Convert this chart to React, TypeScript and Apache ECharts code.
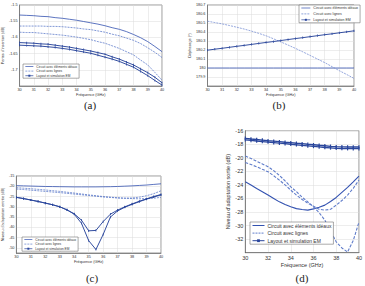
import React, { useEffect, useRef } from "react";
import * as echarts from "echarts";

// Frequency sweep (GHz), 0.5 GHz steps
const freq = [30, 30.5, 31, 31.5, 32, 32.5, 33, 33.5, 34, 34.5, 35, 35.5, 36, 36.5, 37, 37.5, 38, 38.5, 39, 39.5, 40];

// (a) Pertes d'insertion (dB)
const lossIdeal = [-1.531, -1.532, -1.533, -1.535, -1.536, -1.539, -1.541, -1.544, -1.547, -1.551, -1.555, -1.559, -1.564, -1.570, -1.575, -1.582, -1.591, -1.601, -1.613, -1.628, -1.644];
const lossLignes1 = [-1.565, -1.565, -1.565, -1.565, -1.566, -1.566, -1.567, -1.569, -1.571, -1.574, -1.576, -1.580, -1.584, -1.590, -1.595, -1.602, -1.609, -1.619, -1.632, -1.646, -1.662];
const lossLignes2 = [-1.584, -1.585, -1.585, -1.587, -1.589, -1.591, -1.593, -1.596, -1.599, -1.603, -1.607, -1.613, -1.618, -1.626, -1.634, -1.644, -1.654, -1.670, -1.685, -1.708, -1.732];
const lossLayout1 = [-1.616, -1.617, -1.618, -1.620, -1.621, -1.624, -1.627, -1.630, -1.634, -1.638, -1.642, -1.647, -1.652, -1.660, -1.667, -1.676, -1.685, -1.697, -1.709, -1.723, -1.740];
const lossLayout2 = [-1.624, -1.625, -1.626, -1.627, -1.629, -1.631, -1.634, -1.637, -1.641, -1.645, -1.649, -1.655, -1.661, -1.667, -1.674, -1.683, -1.692, -1.705, -1.718, -1.733, -1.747];

// (b) Déphasage (°)
const phaseIdeal = [180, 180, 180, 180, 180, 180, 180, 180, 180, 180, 180, 180, 180, 180, 180, 180, 180, 180, 180, 180, 180];
const phaseLignes = [180.52, 180.505, 180.49, 180.472, 180.453, 180.433, 180.41, 180.385, 180.358, 180.325, 180.29, 180.255, 180.218, 180.18, 180.14, 180.1, 180.06, 180.015, 179.97, 179.928, 179.885];
const phaseLayout = [180.198, 180.209, 180.219, 180.23, 180.241, 180.251, 180.262, 180.273, 180.284, 180.294, 180.305, 180.316, 180.327, 180.337, 180.348, 180.359, 180.37, 180.38, 180.391, 180.402, 180.413];

// (c) Niveau d'adaptation entrée (dB)
const inIdeal = [-19.7, -19.8, -19.9, -20.0, -20.1, -20.15, -20.2, -20.25, -20.3, -20.3, -20.3, -20.3, -20.25, -20.2, -20.1, -19.95, -19.8, -19.6, -19.4, -19.1, -18.8];
const inLignes1 = [-20.7, -20.95, -21.2, -21.5, -21.8, -22.15, -22.5, -22.9, -23.3, -23.75, -24.2, -24.6, -25.0, -25.3, -25.6, -25.8, -25.7, -25.3, -24.6, -23.6, -22.2];
const inLignes2 = [-21.35, -21.6, -21.9, -22.2, -22.5, -22.8, -23.1, -23.45, -23.8, -24.15, -24.5, -24.85, -25.2, -25.45, -25.7, -25.85, -26.0, -26.1, -26.0, -25.8, -25.4];
const inLayout1 = [-25.4, -26.0, -26.7, -27.4, -28.2, -29.0, -30.0, -31.5, -33.4, -36.5, -41.7, -41.5, -37.2, -33.6, -31.6, -30.0, -28.6, -27.3, -26.1, -25.0, -24.0];
const inLayout2 = [-25.4, -26.0, -26.7, -27.4, -28.2, -29.0, -30.0, -31.5, -33.6, -38.0, -46.5, -50.8, -43.5, -35.0, -32.0, -30.2, -28.8, -27.5, -26.3, -25.2, -24.2];

// (d) Niveau d'adaptation sortie (dB)
const outIdeal = [-23.54, -24.0, -24.52, -25.0, -25.5, -26.0, -26.5, -26.9, -27.23, -27.5, -27.63, -27.72, -27.53, -27.3, -26.98, -26.45, -25.85, -25.1, -24.37, -23.55, -22.7];
const outLignes1 = [-19.74, -20.1, -20.5, -20.9, -21.32, -21.9, -22.6, -23.4, -24.28, -25.0, -25.8, -26.5, -27.23, -28.1, -29.2, -30.8, -32.4, -33.3, -33.9, -32.2, -29.5];
const outLignes2 = [-20.68, -21.0, -21.32, -21.7, -22.06, -22.65, -23.29, -24.0, -24.77, -25.5, -26.15, -26.7, -27.13, -27.6, -27.72, -27.6, -26.98, -26.3, -25.5, -24.5, -23.29];
const outLayout1 = [-17.13, -17.22, -17.3, -17.39, -17.48, -17.55, -17.62, -17.7, -17.77, -17.85, -17.92, -18.0, -18.07, -18.15, -18.22, -18.3, -18.36, -18.38, -18.4, -18.4, -18.4];
const outLayout2 = [-17.35, -17.43, -17.52, -17.6, -17.68, -17.76, -17.84, -17.92, -18.0, -18.08, -18.16, -18.24, -18.32, -18.4, -18.48, -18.54, -18.6, -18.63, -18.65, -18.65, -18.65];

const NAME_IDEAL = "Circuit avec éléments idéaux";
const NAME_LIGNES = "Circuit avec lignes";
const NAME_LAYOUT = "Layout et simulation EM";

const C_IDEAL = "#3352b0";
const C_LIGNES = "#5f7cca";
const C_LAYOUT = "#2a469c";
const GRID_LINE = "#dadada";
const TEXT = "#333";
const FONT = "Liberation Sans, Arial, sans-serif";

const pairs = (ys: number[]) => ys.map((y, i) => [freq[i], y]);

type Kind = "ideal" | "lignes" | "layout";

function line(kind: Kind, grid: number, ys: number[], big: boolean, color?: string) {
  const name = kind === "ideal" ? NAME_IDEAL : kind === "lignes" ? NAME_LIGNES : NAME_LAYOUT;
  const c = color || (kind === "ideal" ? C_IDEAL : kind === "lignes" ? C_LIGNES : C_LAYOUT);
  const w = big ? 1.1 : 0.8;
  return {
    type: "line",
    name,
    xAxisIndex: grid,
    yAxisIndex: grid,
    data: pairs(ys),
    smooth: false,
    showSymbol: kind === "layout",
    symbol: kind === "layout" ? "rect" : "none",
    symbolSize: big ? [1.2, 3.5] : [0.8, 2.2],
    itemStyle: { color: c },
    lineStyle: {
      color: c,
      width: kind === "layout" ? w * 1.2 : w,
      type: kind === "lignes" ? (big ? [3, 1.5] : [2, 1]) : "solid",
    },
    emphasis: { disabled: true },
    silent: true,
  };
}

function xAxis(grid: number, interval: number, fs: number, nameGap: number) {
  return {
    type: "value",
    gridIndex: grid,
    min: 30,
    max: 40,
    interval,
    name: "Fréquence (GHz)",
    nameLocation: "middle",
    nameGap,
    nameTextStyle: { fontSize: fs, color: TEXT, fontFamily: FONT },
    axisLine: { show: true, onZero: false, lineStyle: { color: "#555", width: 0.6 } },
    axisTick: { show: false },
    axisLabel: { fontSize: fs, color: TEXT, margin: 2, fontFamily: FONT },
    splitLine: { show: true, lineStyle: { color: GRID_LINE, width: 0.5 } },
  };
}

function yAxis(grid: number, name: string, min: number, max: number, interval: number, fs: number, nameGap: number, fmt: (v: number) => string, extra: any = {}) {
  return {
    type: "value",
    gridIndex: grid,
    min,
    max,
    interval,
    name,
    nameLocation: "middle",
    nameGap,
    nameRotate: 90,
    nameTextStyle: { fontSize: fs, color: TEXT, fontFamily: FONT },
    axisLine: { show: true, lineStyle: { color: "#555", width: 0.6 } },
    axisTick: { show: false },
    axisLabel: { fontSize: fs, color: TEXT, margin: 2, fontFamily: FONT, showMinLabel: false, formatter: fmt, ...(extra.axisLabel || {}) },
    splitLine: { show: true, lineStyle: { color: GRID_LINE, width: 0.5 } },
    ...(extra.rest || {}),
  };
}

// Legend entries: plain lines have no marker, the EM layout keeps its marker
const legendData = [
  { name: NAME_IDEAL, itemStyle: { opacity: 0 } },
  { name: NAME_LIGNES, itemStyle: { opacity: 0 } },
  { name: NAME_LAYOUT },
];

function legend(left: number, top: number, fs: number, itemW: number, itemH: number, gap: number, lw: number) {
  return {
    data: legendData,
    orient: "vertical",
    left,
    top,
    backgroundColor: "#fff",
    borderColor: "#555",
    borderWidth: 0.5,
    padding: [1, 2, 1, 2],
    itemGap: gap,
    itemWidth: itemW,
    itemHeight: itemH,
    selectedMode: false,
    lineStyle: { width: lw },
    textStyle: { fontSize: fs, color: TEXT, fontFamily: FONT, padding: [0, 0, 0, -2] },
  };
}

const gridBox = { show: true, borderColor: "#555", borderWidth: 0.6, backgroundColor: "#fff" };

export default function App() {
  const ref = useRef<HTMLDivElement>(null);

  useEffect(() => {
    if (!ref.current) return;
    const chart = echarts.init(ref.current, undefined, { renderer: "svg" });
    const f2 = (v: number) => String(+v.toFixed(2));
    const f1 = (v: number) => String(+v.toFixed(1));
    const f0 = (v: number) => String(Math.round(v));
    const cTicks = [-50, -45, -40, -35, -30, -25, -20, -15];

    chart.setOption({
      animation: false,
      backgroundColor: "#fff",
      grid: [
        { left: 18, top: 5, width: 144, height: 81, ...gridBox },
        { left: 207.5, top: 5, width: 146.5, height: 81, ...gridBox },
        { left: 13.5, top: 176, width: 147.5, height: 77, ...gridBox },
        { left: 245.3, top: 130.7, width: 119.2, height: 122, ...gridBox },
      ],
      xAxis: [xAxis(0, 1, 3.8, 6), xAxis(1, 1, 3.8, 6), xAxis(2, 1, 3.8, 6), xAxis(3, 2, 5.5, 9)],
      yAxis: [
        yAxis(0, "Pertes d'insertion (dB)", -1.75, -1.5, 0.05, 3.8, 11, f2),
        yAxis(1, "Déphasage (°)", 179.8, 180.7, 0.1, 3.8, 13, f1),
        yAxis(2, "Niveau d'adaptation entrée (dB)", -52.5, -15, 2.5, 3.8, 9, f0, {
          axisLabel: { customValues: cTicks, showMinLabel: true },
          rest: { axisTick: { show: false, customValues: cTicks } },
        }),
        yAxis(3, "Niveau d'adaptation sortie (dB)", -34, -16, 2, 5.5, 13, f0),
      ],
      legend: [
        legend(23, 64, 3.2, 8, 2.5, 1.6, 0.7),
        legend(299, 5, 3.5, 9, 2.5, 1.9, 0.7),
        legend(22, 237, 3.2, 8, 2.5, 1.6, 0.7),
        legend(250, 222, 5, 12, 3.5, 2.6, 1),
      ],
      series: [
        line("ideal", 0, lossIdeal, false),
        line("lignes", 0, lossLignes1, false),
        line("lignes", 0, lossLignes2, false),
        line("layout", 0, lossLayout1, false),
        line("layout", 0, lossLayout2, false),

        line("ideal", 1, phaseIdeal, false),
        line("lignes", 1, phaseLignes, false, "#7a90d4"),
        line("layout", 1, phaseLayout, false),

        line("ideal", 2, inIdeal, false),
        line("lignes", 2, inLignes1, false),
        line("lignes", 2, inLignes2, false),
        line("layout", 2, inLayout1, false),
        line("layout", 2, inLayout2, false),

        line("ideal", 3, outIdeal, true),
        line("lignes", 3, outLignes1, true),
        line("lignes", 3, outLignes2, true),
        line("layout", 3, outLayout1, true),
        line("layout", 3, outLayout2, true),
      ],
      graphic: [
        { type: "text", x: 90, y: 105, style: { text: "(a)", fontSize: 11, fontFamily: "Liberation Serif, serif", fill: "#222", align: "center", verticalAlign: "middle" } },
        { type: "text", x: 279, y: 105, style: { text: "(b)", fontSize: 11, fontFamily: "Liberation Serif, serif", fill: "#222", align: "center", verticalAlign: "middle" } },
        { type: "text", x: 92, y: 278, style: { text: "(c)", fontSize: 11, fontFamily: "Liberation Serif, serif", fill: "#222", align: "center", verticalAlign: "middle" } },
        { type: "text", x: 302, y: 278, style: { text: "(d)", fontSize: 11, fontFamily: "Liberation Serif, serif", fill: "#222", align: "center", verticalAlign: "middle" } },
      ],
    });
    return () => chart.dispose();
  }, []);

  return <div ref={ref} style={{ position: "absolute", left: 0, top: 0, width: 365, height: 286 }} />;
}
